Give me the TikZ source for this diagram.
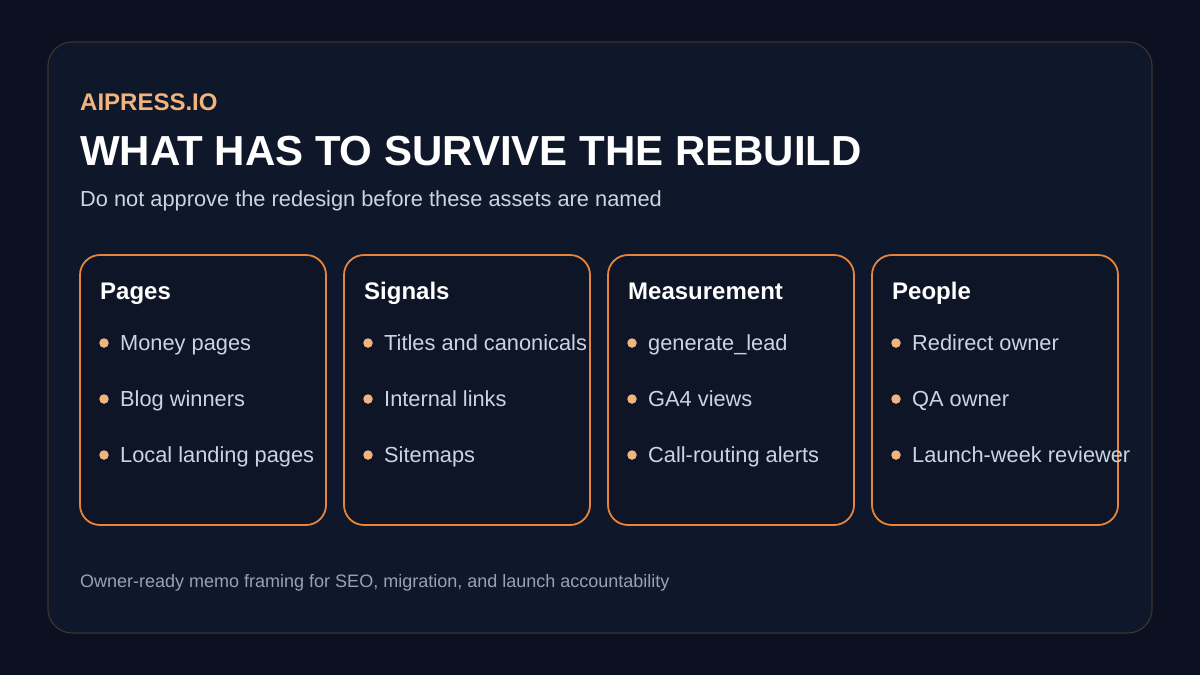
\documentclass[tikz,border=0pt]{standalone}
\usepackage{fontspec}
\setmainfont{Liberation Sans}
\usetikzlibrary{positioning}
\definecolor{bgdark}{HTML}{0B1120}
\definecolor{panel}{HTML}{0F172A}
\definecolor{panelline}{HTML}{3A3332}
\definecolor{cardfill}{HTML}{0E1526}
\definecolor{accent}{HTML}{E8843A}
\definecolor{brand}{HTML}{F2B37C}
\definecolor{subtext}{HTML}{CBD5E1}
\definecolor{foot}{HTML}{94A3B8}
\tikzset{
  card/.style={draw=accent, line width=1.8pt, fill=cardfill, rounded corners=20pt},
  card title/.style={anchor=base west, inner sep=0pt, text=white, font=\fontsize{24}{28}\selectfont\bfseries},
  item/.style={anchor=base west, inner sep=0pt, text=subtext, font=\fontsize{21.8}{26}\selectfont},
  dot/.style={circle, fill=brand, inner sep=0pt, minimum size=9.5pt},
}
\begin{document}
\begin{tikzpicture}[x=1pt, y=-1pt]%

\fill [bgdark] (0,0) rectangle (1200,675);
\useasboundingbox (0,0) rectangle (1200,675);
\draw [panelline, fill=panel, line width=1.2pt, rounded corners=24pt] (48,42) rectangle (1152,633);

\node [anchor=base west, text=brand, font=\fontsize{24}{28}\selectfont\bfseries, inner sep=0pt] (brand) at (80,110) {AIPRESS.IO};
\node [anchor=base west, text=white, font=\fontsize{42}{48}\selectfont\bfseries, inner sep=0pt] (title) at (80,165) {WHAT HAS TO SURVIVE THE REBUILD};
\node [anchor=base west, text=subtext, font=\fontsize{21.8}{26}\selectfont, inner sep=0pt] (sub) at (80,206) {Do not approve the redesign before these assets are named};

\foreach \t/\a/\b/\c [count=\i from 0] in {
    Pages/Money pages/Blog winners/Local landing pages,
    Signals/Titles and canonicals/Internal links/Sitemaps,
    Measurement/generate\_lead/GA4 views/Call-routing alerts,
    People/Redirect owner/QA owner/Launch-week reviewer} {
  \draw [card] (80+264*\i,255) rectangle (326+264*\i,525);
  \node [card title] (head-\i) at (100+264*\i,299) {\t};
  \foreach \s/\y [count=\k] in {\a/343,\b/399,\c/455} {
    \node [dot] (dot-\i-\k) at (104+264*\i,\y) {};
    \node [item] (item-\i-\k) at (120+264*\i,\y+7.5) {\s};
  }
}

\node [anchor=base west, text=foot, font=\fontsize{18}{22}\selectfont, inner sep=0pt] (foot) at (80,587) {Owner-ready memo framing for SEO, migration, and launch accountability};

\end{tikzpicture}
\end{document}
